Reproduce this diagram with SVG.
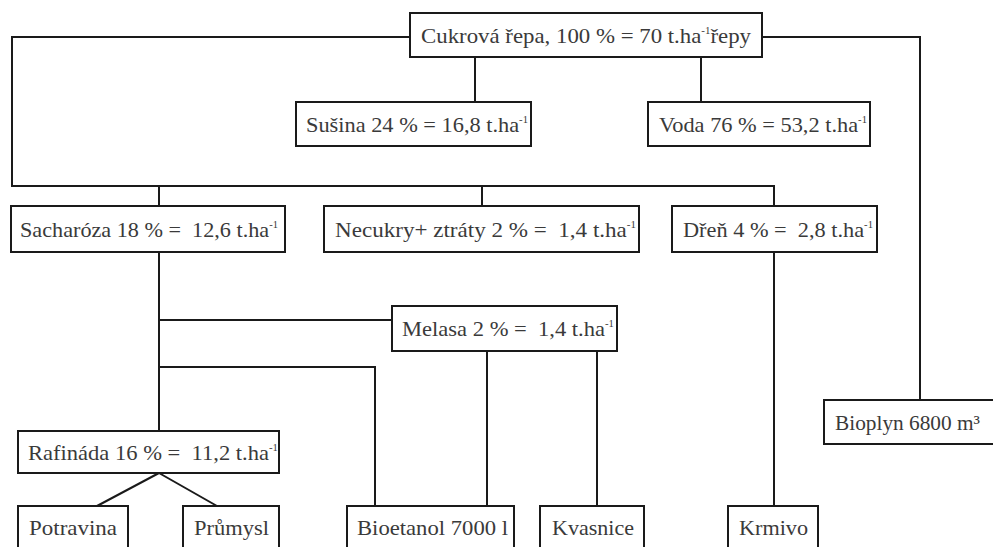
<svg xmlns="http://www.w3.org/2000/svg" width="993" height="547" viewBox="0 0 993 547">
<style>
.box{fill:#fff;stroke:#1a1a1a;stroke-width:2}
.t{font-family:"Liberation Serif","DejaVu Serif",serif;font-size:21px;fill:#3a3a3a}
.sup{font-size:10px}
.c{fill:none;stroke:#1a1a1a;stroke-width:2}
</style>
<rect width="993" height="547" fill="#fff"/>
<g id="connectors" class="c">
<path d="M410 37H12V186H774V206"/>
<path d="M159 186V206M482 186V206"/>
<path d="M762 37H920V400"/>
<path d="M475 57V102M701 57V102"/>
<path d="M159 252V431M159 320H392M159 367H375V506"/>
<path d="M487 351V506M597 351V506"/>
<path d="M774 252V506"/>
<path d="M159 473L97 506M159 473L217 506"/>
</g>
<g id="n_cukrova"><rect class="box" x="410" y="13" width="352" height="44"/><text class="t" x="421" y="43" textLength="330" lengthAdjust="spacingAndGlyphs">Cukrová řepa, 100 % = 70 t.ha<tspan class="sup" dy="-9">-1</tspan><tspan dy="9">řepy</tspan></text></g>
<g id="n_susina"><rect class="box" x="296" y="102" width="235" height="44"/><text class="t" x="306" y="132" textLength="222" lengthAdjust="spacingAndGlyphs">Sušina 24 % = 16,8 t.ha<tspan class="sup" dy="-9">-1</tspan></text></g>
<g id="n_voda"><rect class="box" x="648" y="102" width="222" height="44"/><text class="t" x="659" y="132" textLength="208" lengthAdjust="spacingAndGlyphs">Voda 76 % = 53,2 t.ha<tspan class="sup" dy="-9">-1</tspan></text></g>
<g id="n_sacharoza"><rect class="box" x="11" y="206" width="274" height="46"/><text class="t" x="20" y="237" textLength="258" lengthAdjust="spacingAndGlyphs">Sacharóza 18 % =&#160; 12,6 t.ha<tspan class="sup" dy="-9">-1</tspan></text></g>
<g id="n_necukry"><rect class="box" x="324" y="206" width="315" height="46"/><text class="t" x="335" y="237" textLength="301" lengthAdjust="spacingAndGlyphs">Necukry+ ztráty 2 % =&#160; 1,4 t.ha<tspan class="sup" dy="-9">-1</tspan></text></g>
<g id="n_dren"><rect class="box" x="672" y="206" width="205" height="46"/><text class="t" x="683" y="237" textLength="190" lengthAdjust="spacingAndGlyphs">Dřeň 4 % =&#160; 2,8 t.ha<tspan class="sup" dy="-9">-1</tspan></text></g>
<g id="n_melasa"><rect class="box" x="392" y="306" width="225" height="45"/><text class="t" x="402" y="336" textLength="212" lengthAdjust="spacingAndGlyphs">Melasa 2 % =&#160; 1,4 t.ha<tspan class="sup" dy="-9">-1</tspan></text></g>
<g id="n_bioplyn"><rect class="box" x="824" y="400" width="170" height="44"/><text class="t" x="835" y="430" textLength="145" lengthAdjust="spacingAndGlyphs">Bioplyn 6800 m³</text></g>
<g id="n_rafinada"><rect class="box" x="18" y="431" width="261" height="42"/><text class="t" x="28" y="460" textLength="250" lengthAdjust="spacingAndGlyphs">Rafináda 16 % =&#160; 11,2 t.ha<tspan class="sup" dy="-9">-1</tspan></text></g>
<g id="n_potravina"><rect class="box" x="18" y="506" width="110" height="60"/><text class="t" x="29" y="535" textLength="88" lengthAdjust="spacingAndGlyphs">Potravina</text></g>
<g id="n_prumysl"><rect class="box" x="183" y="506" width="96" height="60"/><text class="t" x="194" y="535" textLength="75" lengthAdjust="spacingAndGlyphs">Průmysl</text></g>
<g id="n_bioetanol"><rect class="box" x="347" y="506" width="167" height="60"/><text class="t" x="357" y="535" textLength="151" lengthAdjust="spacingAndGlyphs">Bioetanol 7000 l</text></g>
<g id="n_kvasnice"><rect class="box" x="540" y="506" width="104" height="60"/><text class="t" x="552" y="535" textLength="82" lengthAdjust="spacingAndGlyphs">Kvasnice</text></g>
<g id="n_krmivo"><rect class="box" x="728" y="506" width="90" height="60"/><text class="t" x="739" y="535" textLength="69" lengthAdjust="spacingAndGlyphs">Krmivo</text></g>
</svg>
